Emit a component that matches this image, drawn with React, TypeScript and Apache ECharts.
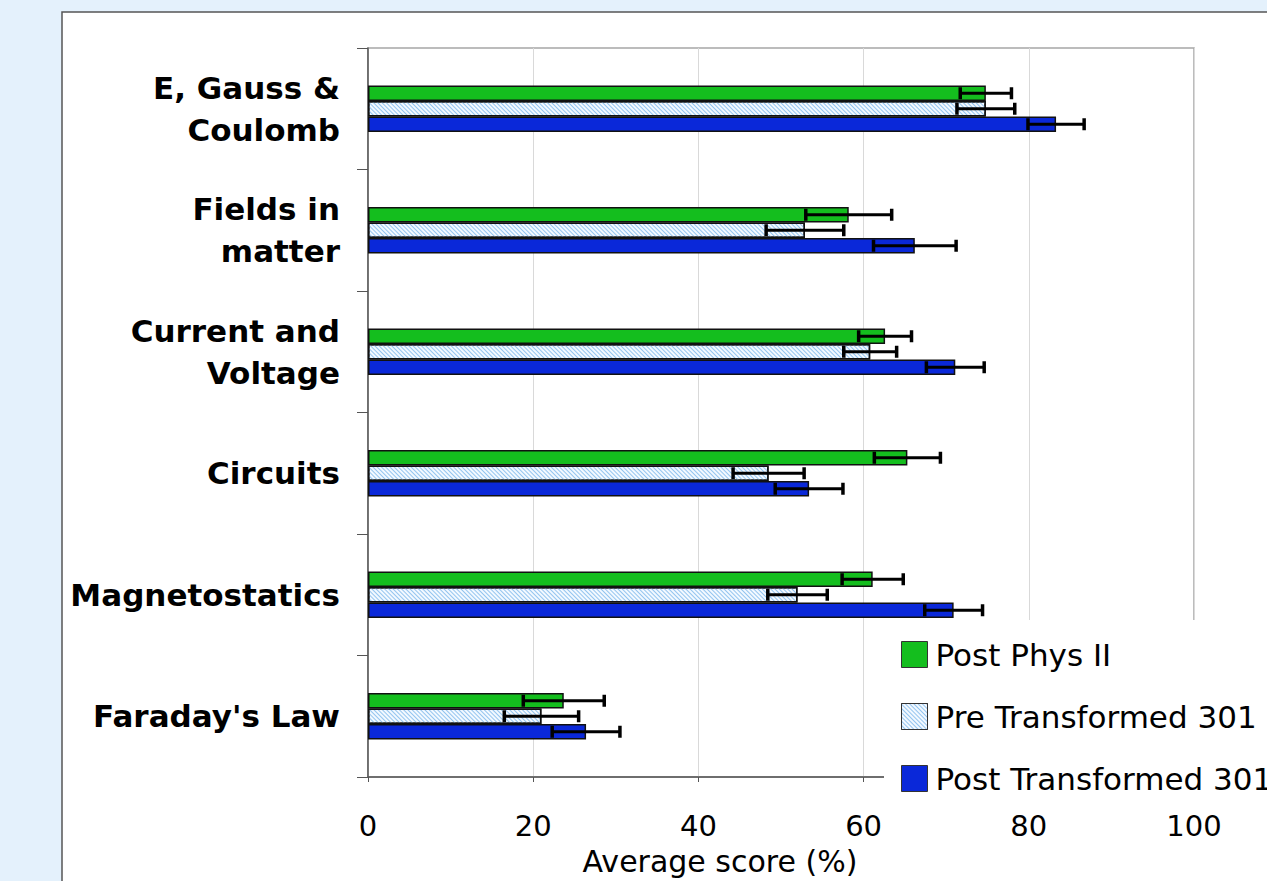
import React, { useEffect, useRef } from "react";
import * as echarts from "echarts";

const categories = [
  "E, Gauss &\nCoulomb",
  "Fields in\nmatter",
  "Current and\nVoltage",
  "Circuits",
  "Magnetostatics",
  "Faraday's Law",
];

const seriesNames = ["Post Phys II", "Pre Transformed 301", "Post Transformed 301"];

const postPhysII = [74.8, 58.2, 62.6, 65.3, 61.1, 23.7];
const postPhysIIErr = [3.1, 5.2, 3.2, 4.0, 3.7, 4.9];
const preT301 = [74.8, 52.9, 60.8, 48.5, 52.0, 21.0];
const preT301Err = [3.5, 4.7, 3.2, 4.3, 3.6, 4.5];
const postT301 = [83.3, 66.2, 71.1, 53.4, 70.9, 26.4];
const postT301Err = [3.4, 5.0, 3.5, 4.1, 3.5, 4.1];

const xTicks = [0, 20, 40, 60, 80, 100];

const FONT = "DejaVu Sans";
const BAR_W = 15.5;

export default function App() {
  const ref = useRef<HTMLDivElement>(null);

  useEffect(() => {
    if (!ref.current) return;
    const chart = echarts.init(ref.current, null, { renderer: "svg" });

    const barBase = {
      type: "bar" as const,
      barWidth: BAR_W,
      barGap: "0%",
      z: 2,
    };

    const values = [postPhysII, preT301, postT301];
    const errs = [postPhysIIErr, preT301Err, postT301Err];

    const errorSeries = values.map((vals, si) => ({
      type: "custom" as const,
      name: seriesNames[si] + " err",
      z: 5,
      silent: true,
      encode: { x: 1, y: 0 },
      data: vals.map((v, i) => [i, v, errs[si][i]]),
      renderItem: (params: any, api: any) => {
        const cat = api.value(0);
        const val = api.value(1);
        const err = api.value(2);
        const c = api.coord([val, cat]);
        const y = c[1] + (si - 1) * BAR_W;
        const lo = api.coord([val - err, cat])[0];
        const hi = api.coord([val + err, cat])[0];
        const st = { stroke: "#000", lineWidth: 3 };
        const cs = { stroke: "#000", lineWidth: 3.5 };
        return {
          type: "group",
          children: [
            { type: "line", shape: { x1: lo, y1: y, x2: hi, y2: y }, style: st },
            { type: "line", shape: { x1: lo, y1: y - 6, x2: lo, y2: y + 6 }, style: cs },
            { type: "line", shape: { x1: hi, y1: y - 6, x2: hi, y2: y + 6 }, style: cs },
          ],
        };
      },
    }));

    const option: any = {
      animation: false,
      backgroundColor: "#e4f1fc",
      textStyle: { fontFamily: FONT },
      graphic: [
        {
          type: "rect",
          z: -100,
          silent: true,
          shape: { x: 62, y: 12, width: 1300, height: 1000 },
          style: { fill: "#ffffff", stroke: "#555555", lineWidth: 1.5 },
        },
      ],
      grid: {
        left: 368,
        top: 48,
        width: 826,
        height: 730,
        show: true,
        backgroundColor: "#ffffff",
        borderColor: "#a6a6a6",
        borderWidth: 1.5,
      },
      legend: {
        orient: "vertical",
        left: 884,
        top: 620,
        padding: [19, 20, 6, 17],
        backgroundColor: "#ffffff",
        icon: "rect",
        itemWidth: 26,
        itemHeight: 26,
        itemGap: 31,
        data: seriesNames,
        itemStyle: { borderColor: "#333", borderWidth: 1 },
        textStyle: { fontFamily: FONT, fontSize: 31, color: "#000", lineHeight: 30, padding: [0, 0, 0, 3] },
        z: 20,
      },
      xAxis: {
        type: "value",
        min: xTicks[0],
        max: xTicks[xTicks.length - 1],
        interval: 20,
        name: "Average score (%)",
        nameLocation: "middle",
        nameGap: 69,
        nameTextStyle: { fontFamily: FONT, fontSize: 30, color: "#000", padding: [0, 122, 0, 0] },
        axisLine: { show: true, lineStyle: { color: "#555", width: 1.5 } },
        axisTick: { show: true, length: 5, lineStyle: { color: "#555" } },
        axisLabel: { fontFamily: FONT, fontSize: 29, color: "#000", margin: 34 },
        splitLine: { show: true, lineStyle: { color: "#d9d9d9", width: 1 } },
      },
      yAxis: {
        type: "category",
        inverse: true,
        data: categories,
        axisLine: { show: true, lineStyle: { color: "#555", width: 1.5 } },
        axisTick: { show: true, length: 11, inside: false, alignWithLabel: false, lineStyle: { color: "#555" } },
        axisLabel: {
          fontFamily: FONT,
          fontSize: 31,
          fontWeight: "bold",
          color: "#000",
          margin: 28,
          lineHeight: 42,
          align: "right",
        },
        splitLine: { show: false },
      },
      series: [
        {
          ...barBase,
          name: seriesNames[0],
          data: postPhysII,
          itemStyle: { color: "#14be1e", borderColor: "#111", borderWidth: 1.5 },
        },
        {
          ...barBase,
          name: seriesNames[1],
          data: preT301,
          itemStyle: {
            color: "#f3f9ff",
            borderColor: "#111",
            borderWidth: 1.5,
            decal: {
              symbol: "rect",
              symbolSize: 1,
              color: "#93c4ef",
              dashArrayX: [1, 0],
              dashArrayY: [1, 2],
              rotation: Math.PI / 4,
            },
          },
        },
        {
          ...barBase,
          name: seriesNames[2],
          data: postT301,
          itemStyle: { color: "#0a28d9", borderColor: "#111", borderWidth: 1.5 },
        },
        ...errorSeries,
      ],
    };

    chart.setOption(option);
    return () => chart.dispose();
  }, []);

  return (
    <div
      ref={ref}
      style={{ position: "fixed", left: 0, top: 0, width: 1267, height: 881 }}
    />
  );
}
